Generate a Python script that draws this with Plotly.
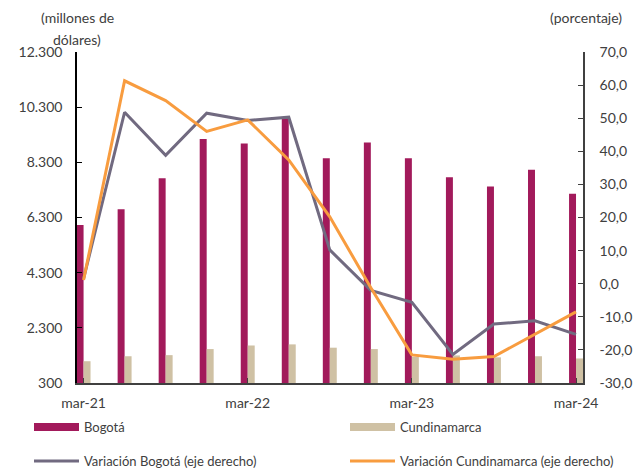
import plotly.graph_objects as go

# Quarters, mar-21 .. mar-24
quarters = ['mar-21', 'jun-21', 'sep-21', 'dic-21', 'mar-22', 'jun-22', 'sep-22', 'dic-22',
            'mar-23', 'jun-23', 'sep-23', 'dic-23', 'mar-24']

# Values in millions of dollars (left axis)
bogota = [6030, 6600, 7720, 9150, 8980, 9890, 8450, 9020, 8450, 7760, 7420, 8030, 7160]
cundinamarca = [1090, 1270, 1310, 1530, 1660, 1700, 1580, 1530, 1250, 1300, 1230, 1270, 1190]

# Annual variation, % (right axis)
var_bogota = [1.5, 51.8, 38.8, 51.5, 49.3, 50.3, 10.2, -2.0, -5.6, -21.4, -12.2, -11.2, -15.3]
var_cundinamarca = [1.1, 61.3, 55.3, 46.0, 49.5, 37.4, 20.2, -1.2, -21.5, -22.8, -22.0, -15.2, -8.5]

# Axis ticks
x_ticks = ['mar-21', 'mar-22', 'mar-23', 'mar-24']
left_ticks = [300, 2300, 4300, 6300, 8300, 10300, 12300]
left_text = ['300', '2.300', '4.300', '6.300', '8.300', '10.300', '12.300']
right_ticks = [-30, -20, -10, 0, 10, 20, 30, 40, 50, 60, 70]
right_text = ['-30,0', '-20,0', '-10,0', '0,0', '10,0', '20,0', '30,0', '40,0', '50,0', '60,0', '70,0']

font = 'Lato'
txt = '#404040'
c_bog, c_cun = '#A21A5B', '#CFC1A4'

# the page body has an 8px margin, so the figure is drawn 8px smaller
W, H = 636, 462

fig = go.Figure()

fig.add_trace(go.Bar(x=quarters, y=bogota, name='Bogotá', marker_color=c_bog,
                     marker_line_width=0, showlegend=False))
fig.add_trace(go.Bar(x=quarters, y=cundinamarca, name='Cundinamarca', marker_color=c_cun,
                     marker_line_width=0, showlegend=False))

# wide flat swatches for the bar series, like the original legend
fig.add_trace(go.Scatter(x=quarters[:1], y=[None], mode='lines', name='Bogotá',
                         line={'color': c_bog, 'width': 8}, legend='legend'))
fig.add_trace(go.Scatter(x=quarters[:1], y=[None], mode='lines', name='Cundinamarca',
                         line={'color': c_cun, 'width': 8}, legend='legend2'))

fig.add_trace(go.Scatter(x=quarters, y=var_bogota, yaxis='y2', mode='lines',
                         name='Variación Bogotá (eje derecho)',
                         line={'color': '#716A80', 'width': 3}, legend='legend3'))
fig.add_trace(go.Scatter(x=quarters, y=var_cundinamarca, yaxis='y2', mode='lines',
                         name='Variación Cundinamarca (eje derecho)',
                         line={'color': '#F89C3F', 'width': 3}, legend='legend4'))


def leg(px, py):
    # px, py: page pixels of the legend's left edge / middle
    return {'xref': 'container', 'yref': 'container',
            'x': (px - 8) / W, 'y': 1 - (py - 8) / H, 'yanchor': 'middle', 'xanchor': 'left',
            'itemwidth': 45, 'font': {'size': 13, 'color': txt}, 'bgcolor': 'rgba(0,0,0,0)'}


def note(text, px, py):
    # annotation centred on page pixels px, py
    return dict(text=text, xref='paper', yref='paper', x=(px - 77) / 506, y=(383 - py) / 331,
                xanchor='center', yanchor='middle', showarrow=False,
                font={'size': 14, 'color': txt})


fig.update_layout(
    width=W, height=H,
    margin={'l': 69, 'r': 61, 't': 44, 'b': 87, 'autoexpand': False},
    showlegend=True,
    plot_bgcolor='white', paper_bgcolor='white',
    font={'family': font, 'size': 13, 'color': txt},
    barmode='group', bargap=0.66, bargroupgap=0,
    xaxis={'type': 'category', 'range': [-0.16, 12.17], 'tickmode': 'array', 'tickvals': x_ticks,
           'ticks': 'inside', 'ticklen': 5, 'tickcolor': '#404040',
           'showline': True, 'linecolor': '#404040', 'linewidth': 1.5, 'showgrid': False,
           'ticklabelstandoff': 6, 'tickfont': {'size': 14}},
    yaxis={'range': [300, 12300], 'tickvals': left_ticks, 'ticktext': left_text,
           'ticks': 'inside', 'ticklen': 5, 'tickcolor': 'black',
           'showline': True, 'linecolor': 'black', 'linewidth': 1.5, 'showgrid': False,
           'zeroline': False, 'ticklabelstandoff': 10, 'tickfont': {'size': 14}},
    yaxis2={'range': [-30, 70], 'tickvals': right_ticks, 'ticktext': right_text,
            'overlaying': 'y', 'side': 'right',
            'ticks': 'inside', 'ticklen': 5, 'tickcolor': '#404040',
            'showline': True, 'linecolor': '#404040', 'linewidth': 1.5, 'showgrid': False,
            'zeroline': False, 'ticklabelstandoff': 12, 'tickfont': {'size': 14}},
    legend=leg(29, 427),
    legend2=leg(345, 427),
    legend3=leg(29, 461),
    legend4=leg(345, 461),
    annotations=[
        note('(millones de', 77, 18),
        note('dólares)', 77, 39),
        note('(porcentaje)', 586, 17),
    ],
)

fig.write_html('out.html')
